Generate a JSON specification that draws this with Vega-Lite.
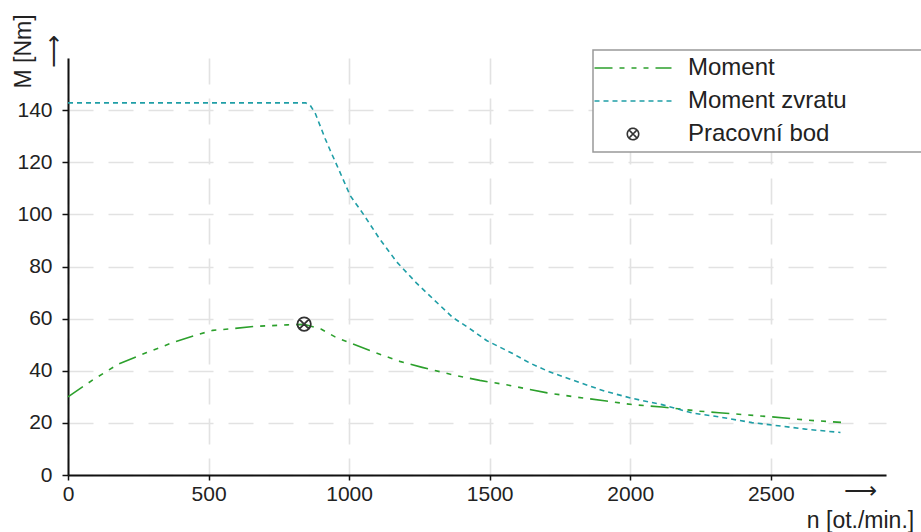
{
  "$schema": "https://vega.github.io/schema/vega-lite/v6.json",
  "width": 818,
  "height": 417,
  "autosize": "none",
  "padding": {"left": 68, "top": 58, "right": 35, "bottom": 57},
  "background": "white",
  "config": {"view": {"stroke": null}, "font": "Liberation Sans"},
  "data": {
    "values": [
      {"n": 0, "M": 30, "s": "Moment"},
      {"n": 90, "M": 36.6, "s": "Moment"},
      {"n": 180, "M": 42.6, "s": "Moment"},
      {"n": 280, "M": 47, "s": "Moment"},
      {"n": 375, "M": 50.9, "s": "Moment"},
      {"n": 465, "M": 54, "s": "Moment"},
      {"n": 515, "M": 55.5, "s": "Moment"},
      {"n": 580, "M": 56.1, "s": "Moment"},
      {"n": 660, "M": 57, "s": "Moment"},
      {"n": 780, "M": 57.6, "s": "Moment"},
      {"n": 840, "M": 57.8, "s": "Moment"},
      {"n": 900, "M": 56, "s": "Moment"},
      {"n": 950, "M": 53, "s": "Moment"},
      {"n": 1000, "M": 50.8, "s": "Moment"},
      {"n": 1080, "M": 47.5, "s": "Moment"},
      {"n": 1180, "M": 43.6, "s": "Moment"},
      {"n": 1260, "M": 41.3, "s": "Moment"},
      {"n": 1370, "M": 38.4, "s": "Moment"},
      {"n": 1465, "M": 36.3, "s": "Moment"},
      {"n": 1560, "M": 34.6, "s": "Moment"},
      {"n": 1705, "M": 31.5, "s": "Moment"},
      {"n": 1808, "M": 29.9, "s": "Moment"},
      {"n": 1915, "M": 28.4, "s": "Moment"},
      {"n": 2007, "M": 27, "s": "Moment"},
      {"n": 2113, "M": 26.1, "s": "Moment"},
      {"n": 2245, "M": 24.5, "s": "Moment"},
      {"n": 2316, "M": 23.9, "s": "Moment"},
      {"n": 2504, "M": 22.3, "s": "Moment"},
      {"n": 2635, "M": 21, "s": "Moment"},
      {"n": 2750, "M": 20.2, "s": "Moment"},
      {"n": 0, "M": 142.8, "s": "Moment zvratu"},
      {"n": 845, "M": 142.8, "s": "Moment zvratu"},
      {"n": 862, "M": 141.8, "s": "Moment zvratu"},
      {"n": 880, "M": 138.7, "s": "Moment zvratu"},
      {"n": 915, "M": 129, "s": "Moment zvratu"},
      {"n": 933, "M": 124.5, "s": "Moment zvratu"},
      {"n": 960, "M": 118, "s": "Moment zvratu"},
      {"n": 1004, "M": 107.2, "s": "Moment zvratu"},
      {"n": 1050, "M": 100.2, "s": "Moment zvratu"},
      {"n": 1106, "M": 91, "s": "Moment zvratu"},
      {"n": 1170, "M": 81.7, "s": "Moment zvratu"},
      {"n": 1241, "M": 73.5, "s": "Moment zvratu"},
      {"n": 1316, "M": 65.8, "s": "Moment zvratu"},
      {"n": 1369, "M": 60.4, "s": "Moment zvratu"},
      {"n": 1429, "M": 56.2, "s": "Moment zvratu"},
      {"n": 1489, "M": 51.6, "s": "Moment zvratu"},
      {"n": 1582, "M": 46.6, "s": "Moment zvratu"},
      {"n": 1642, "M": 43, "s": "Moment zvratu"},
      {"n": 1706, "M": 39.9, "s": "Moment zvratu"},
      {"n": 1777, "M": 37.1, "s": "Moment zvratu"},
      {"n": 1908, "M": 32.2, "s": "Moment zvratu"},
      {"n": 2007, "M": 29.4, "s": "Moment zvratu"},
      {"n": 2113, "M": 27, "s": "Moment zvratu"},
      {"n": 2220, "M": 23.8, "s": "Moment zvratu"},
      {"n": 2316, "M": 22.3, "s": "Moment zvratu"},
      {"n": 2433, "M": 20.1, "s": "Moment zvratu"},
      {"n": 2504, "M": 19.2, "s": "Moment zvratu"},
      {"n": 2624, "M": 17.6, "s": "Moment zvratu"},
      {"n": 2748, "M": 16.3, "s": "Moment zvratu"},
      {"n": 840, "M": 57.9, "s": "Pracovní bod"}
    ]
  },
  "layer": [
    {
      "transform": [{"filter": "datum.s !== 'Pracovní bod'"}],
      "mark": {"type": "line", "strokeWidth": 1.6},
      "encoding": {
        "x": {
          "field": "n", "type": "quantitative",
          "scale": {"domain": [0, 2910], "nice": false, "zero": false},
          "axis": {
            "values": [0, 500, 1000, 1500, 2000, 2500],
            "format": "d",
            "title": ["⟶", "n [ot./min.]"],
            "titleFont": "Liberation Sans, DejaVu Sans",
            "titleFontSize": 23, "titleFontWeight": "normal", "titleColor": "#222",
            "titleAngle": 0, "titleAlign": "center", "titleBaseline": "top",
            "titleX": 792, "titleY": 4, "titleLineHeight": 30,
            "labelFont": "Liberation Sans", "labelFontSize": 21, "labelColor": "#222",
            "labelPadding": 3, "labelFlush": false, "labelOverlap": false,
            "domainColor": "#111", "domainWidth": 2,
            "tickColor": "#111", "tickWidth": 1.5, "tickSize": 5,
            "grid": true, "gridColor": "#e2e2e2", "gridWidth": 1.6, "gridDash": [26, 14],
            "encode": {"ticks": {"update": {"y": {"value": -10}}}}
          }
        },
        "y": {
          "field": "M", "type": "quantitative",
          "scale": {"domain": [0, 160], "nice": false},
          "axis": {
            "values": [0, 20, 40, 60, 80, 100, 120, 140],
            "format": "d",
            "title": ["M [Nm]", "⟶"],
            "titleFont": "Liberation Sans, DejaVu Sans",
            "titleFontSize": 23, "titleFontWeight": "normal", "titleColor": "#222",
            "titleAngle": 270, "titleAlign": "center", "titleBaseline": "top",
            "titleX": -56, "titleY": -7, "titleLineHeight": 30,
            "labelFont": "Liberation Sans", "labelFontSize": 21, "labelColor": "#222",
            "labelPadding": 10, "labelFlush": false, "labelOverlap": false,
            "domainColor": "#111", "domainWidth": 2,
            "tickColor": "#111", "tickWidth": 1.5, "tickSize": 6,
            "grid": true, "gridColor": "#e2e2e2", "gridWidth": 1.6, "gridDash": [25, 15],
            "encode": {"ticks": {"update": {"x": {"value": 9}}}}
          }
        },
        "color": {
          "field": "s", "type": "nominal",
          "scale": {"domain": ["Moment", "Moment zvratu", "Pracovní bod"], "range": ["#2ca02c", "#1f9ea6", "#333333"]},
          "legend": {
            "orient": "none", "legendX": 525, "legendY": -8,
            "title": null, "padding": 6, "rowPadding": 9,
            "labelFont": "Liberation Sans", "labelFontSize": 24, "labelColor": "#222",
            "labelOffset": 43, "labelLimit": 500,
            "labelExpr": "datum.label + '\u00a0\u00a0\u00a0\u00a0\u00a0\u00a0\u00a0\u00a0\u00a0\u00a0\u00a0\u200b'",
            "symbolType": "stroke", "symbolSize": 5929, "symbolStrokeWidth": 1.6, "symbolOffset": 22,
            "strokeColor": "#999999", "fillColor": "white",
            "encode": {
              "symbols": {
                "update": {
                  "shape": {"signal": "datum.value === 'Pracovní bod' ? 'M-1,0A1,1 0 1,1 1,0A1,1 0 1,1 -1,0ZM-0.7,-0.7L0.7,0.7M-0.7,0.7L0.7,-0.7' : 'stroke'"},
                  "size": {"signal": "datum.value === 'Pracovní bod' ? 130 : 5929"},
                  "strokeDash": {"signal": "datum.value === 'Moment' ? [18,7,5,7,5,7,5,7] : datum.value === 'Moment zvratu' ? [5,4] : [1,0]"},
                  "strokeWidth": {"signal": "datum.value === 'Pracovní bod' ? 1.6 : 1.6"},
                  "fill": {"value": "transparent"},
                  "opacity": {"value": 1}
                }
              },
              "legend": {"update": {"strokeWidth": {"value": 1.5}}}
            }
          }
        },
        "strokeDash": {
          "field": "s", "type": "nominal",
          "scale": {"domain": ["Moment", "Moment zvratu"], "range": [[18, 7, 5, 7, 5, 7, 5, 7], [5, 4]]},
          "legend": null
        }
      }
    },
    {
      "transform": [{"filter": "datum.s === 'Pracovní bod'"}],
      "mark": {
        "type": "point",
        "shape": "M-1,0A1,1 0 1,1 1,0A1,1 0 1,1 -1,0ZM-0.7,-0.7L0.7,0.7M-0.7,0.7L0.7,-0.7",
        "filled": false, "size": 180, "strokeWidth": 1.8, "opacity": 1
      },
      "encoding": {
        "x": {"field": "n", "type": "quantitative"},
        "y": {"field": "M", "type": "quantitative"},
        "color": {"field": "s", "type": "nominal"}
      }
    }
  ]
}
